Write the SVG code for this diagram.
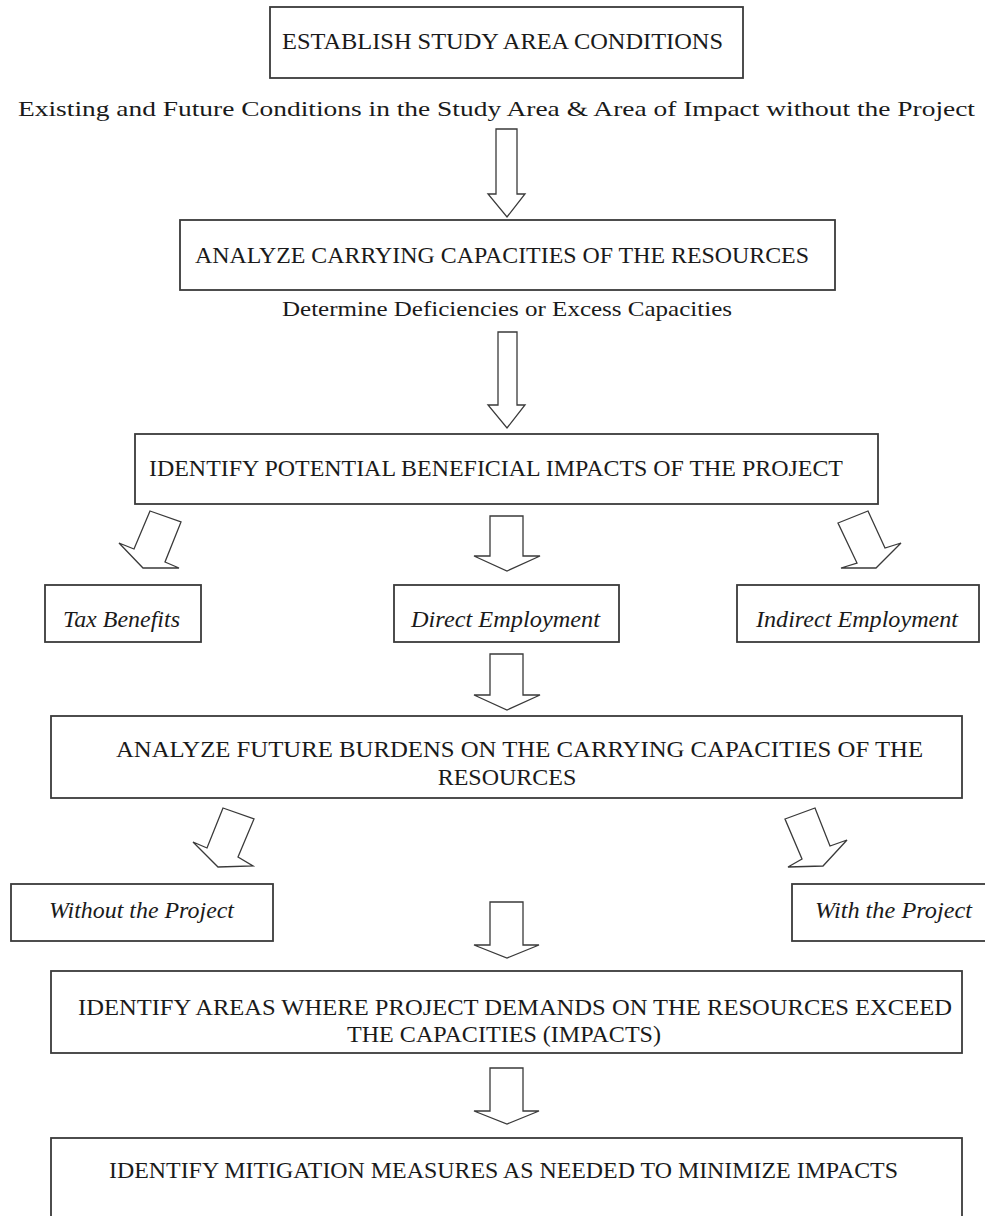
<svg xmlns="http://www.w3.org/2000/svg" width="985" height="1216" viewBox="0 0 985 1216">
<style>
.box{fill:#fff;stroke:#3a3a3a;stroke-width:1.8}
text{font-family:'Liberation Serif','Times New Roman',Times,serif;fill:#1a1a1a}
.t{font-size:24px}
.s{font-size:22px}
.i{font-size:24px;font-style:italic}
.arr{fill:#fff;stroke:#3a3a3a;stroke-width:1.3;stroke-linejoin:miter}
</style>
<rect width="985" height="1216" fill="#fff"/>
<g id="n1" font-family="Liberation Serif, serif">
<rect class="box" x="270" y="7" width="473" height="71"/>
<text class="t" x="282" y="49" textLength="441" lengthAdjust="spacingAndGlyphs">ESTABLISH STUDY AREA CONDITIONS</text>
</g>
<g id="l1" font-family="Liberation Serif, serif">
<text class="s" x="18" y="116" textLength="957" lengthAdjust="spacingAndGlyphs">Existing and Future Conditions in the Study Area &amp; Area of Impact without the Project</text>
</g>
<g id="n2" font-family="Liberation Serif, serif">
<rect class="box" x="180" y="220" width="655" height="70"/>
<text class="t" x="195" y="263" textLength="614" lengthAdjust="spacingAndGlyphs">ANALYZE CARRYING CAPACITIES OF THE RESOURCES</text>
</g>
<g id="l2" font-family="Liberation Serif, serif">
<text class="s" x="282" y="316" textLength="450" lengthAdjust="spacingAndGlyphs">Determine Deficiencies or Excess Capacities</text>
</g>
<g id="n3" font-family="Liberation Serif, serif">
<rect class="box" x="135" y="434" width="743" height="70"/>
<text class="t" x="149" y="476" textLength="694" lengthAdjust="spacingAndGlyphs">IDENTIFY POTENTIAL BENEFICIAL IMPACTS OF THE PROJECT</text>
</g>
<g id="n4" font-family="Liberation Serif, serif">
<rect class="box" x="45" y="585" width="156" height="57"/>
<text class="i" x="63" y="627" textLength="117" lengthAdjust="spacingAndGlyphs">Tax Benefits</text>
</g>
<g id="n5" font-family="Liberation Serif, serif">
<rect class="box" x="394" y="585" width="225" height="57"/>
<text class="i" x="411" y="627" textLength="189" lengthAdjust="spacingAndGlyphs">Direct Employment</text>
</g>
<g id="n6" font-family="Liberation Serif, serif">
<rect class="box" x="737" y="585" width="242" height="57"/>
<text class="i" x="756" y="627" textLength="202" lengthAdjust="spacingAndGlyphs">Indirect Employment</text>
</g>
<g id="n7" font-family="Liberation Serif, serif">
<rect class="box" x="51" y="716" width="911" height="82"/>
<text class="t" x="116" y="757" textLength="807" lengthAdjust="spacingAndGlyphs">ANALYZE FUTURE BURDENS ON THE CARRYING CAPACITIES OF THE</text>
<text class="t" x="507" y="785" text-anchor="middle">RESOURCES</text>
</g>
<g id="n8" font-family="Liberation Serif, serif">
<rect class="box" x="11" y="884" width="262" height="57"/>
<text class="i" x="49" y="918" textLength="185" lengthAdjust="spacingAndGlyphs">Without the Project</text>
</g>
<g id="n9" font-family="Liberation Serif, serif">
<rect class="box" x="792" y="884" width="200" height="57"/>
<text class="i" x="815" y="918" textLength="157" lengthAdjust="spacingAndGlyphs">With the Project</text>
</g>
<g id="n10" font-family="Liberation Serif, serif">
<rect class="box" x="51" y="971" width="911" height="82"/>
<text class="t" x="78" y="1015" textLength="874" lengthAdjust="spacingAndGlyphs">IDENTIFY AREAS WHERE PROJECT DEMANDS ON THE RESOURCES EXCEED</text>
<text class="t" x="347" y="1042" textLength="314" lengthAdjust="spacingAndGlyphs">THE CAPACITIES (IMPACTS)</text>
</g>
<g id="n11" font-family="Liberation Serif, serif">
<rect class="box" x="51" y="1138" width="911" height="90"/>
<text class="t" x="109" y="1178" textLength="789" lengthAdjust="spacingAndGlyphs">IDENTIFY MITIGATION MEASURES AS NEEDED TO MINIMIZE IMPACTS</text>
</g>
<g id="connectors">
<polygon class="arr" points="496,129 517,129 517,194 525,194 507,217 488,194 496,194"/>
<polygon class="arr" points="498,332 517,332 517,405 525,405 507,428 488,405 498,405"/>
<polygon class="arr" points="150,511 181,522 165,562 179,568 143,568 119,543 134,549"/>
<polygon class="arr" points="490,516 523,516 523,556 540,556 507,571 474,556 490,556"/>
<polygon class="arr" points="838,523 868,511 885,548 901,543 876,568 841,568 857,563"/>
<polygon class="arr" points="490,654 523,654 523,695 540,695 507,710 474,695 490,695"/>
<polygon class="arr" points="223,808 254,819 238,857 253,866 218,867 193,842 207,848"/>
<polygon class="arr" points="785,819 815,808 830,846 847,840 823,866 788,867 802,859"/>
<polygon class="arr" points="490,902 523,902 523,945 539,945 507,958 474,945 490,945"/>
<polygon class="arr" points="490,1068 523,1068 523,1111 539,1111 507,1124 474,1111 490,1111"/>
</g>
</svg>
